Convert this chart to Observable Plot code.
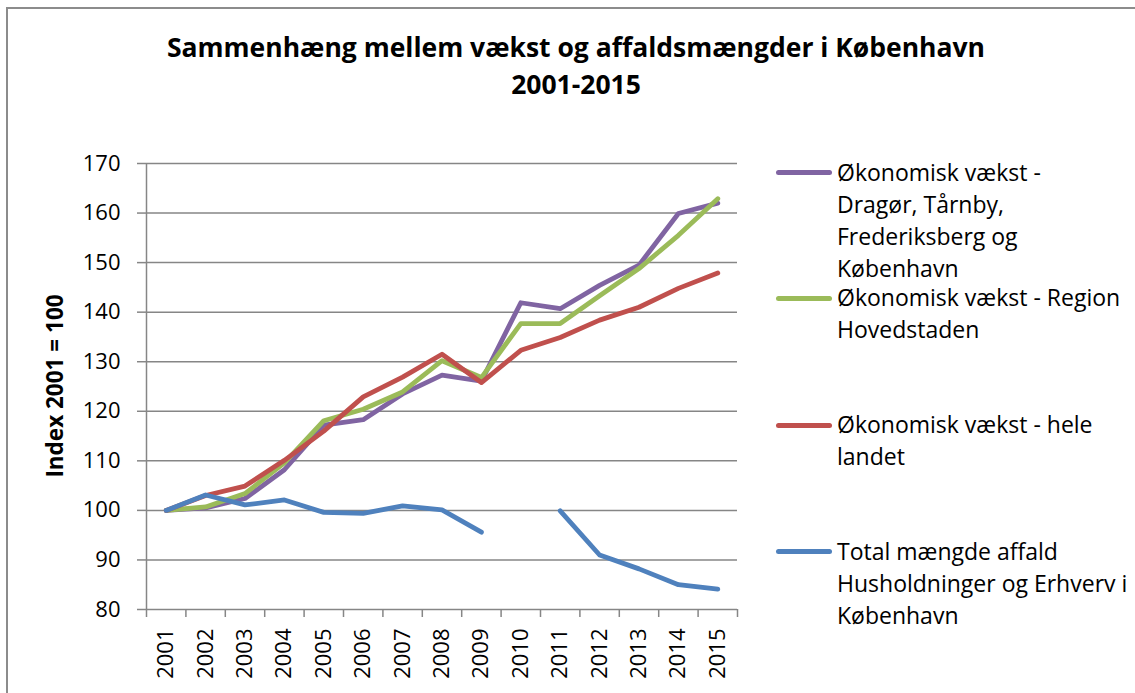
<!DOCTYPE html>
<html>
<head>
<meta charset="utf-8">
<script src="https://cdn.jsdelivr.net/npm/d3@7"></script>
<script src="https://cdn.jsdelivr.net/npm/@observablehq/plot@0.6"></script>
<style>
  body { margin: 0; background: #fff; }
  #wrap { position: relative; width: 1135px; height: 693px; overflow: hidden; background: #fff;
          font-family: "Open Sans", Lato, "DejaVu Sans", sans-serif; color: #000; }
  #frame { position: absolute; left: 6px; top: 7px; width: 1300px; height: 900px;
           border-left: 2px solid #8c8c8c; border-top: 2px solid #8c8c8c; box-sizing: border-box; }
  #chart { position: absolute; left: 0; top: 0; }
  #title { position: absolute; left: 0; top: 29px; width: 1152px; text-align: center;
           font-weight: bold; font-size: 26.5px; line-height: 37px; }
  #ytitle { position: absolute; left: 55px; top: 386px; transform: translate(-50%, -50%) rotate(-90deg);
            font-weight: bold; font-size: 22.5px; line-height: 1; white-space: nowrap; }
  .leg { position: absolute; left: 776px; width: 360px; height: 100px; }
  .leg .sw { position: absolute; left: 0; width: 56px; height: 5px; border-radius: 3px; }
  .leg .tx { position: absolute; left: 61px; top: 0; font-size: 23px; line-height: 32px; white-space: pre; }
</style>
</head>
<body>
<div id="wrap">
  <div id="frame"></div>
  <div id="chart"></div>
  <div id="title"></div>
  <div id="ytitle"></div>
</div>
<script>
// ---- data ----
const years = [2001, 2002, 2003, 2004, 2005, 2006, 2007, 2008, 2009, 2010, 2011, 2012, 2013, 2014, 2015];
const vaekstKbh    = [100, 100.5, 102.4, 108.2, 117.2, 118.3, 123.5, 127.3, 126.1, 141.9, 140.7, 145.4, 149.5, 159.9, 162.0];
const vaekstRegion = [100, 100.7, 103.4, 109.6, 118.1, 120.4, 123.9, 130.2, 126.8, 137.7, 137.7, 143.3, 148.8, 155.5, 162.9];
const vaekstLand   = [100, 103.0, 104.9, 110.1, 116.0, 122.9, 126.9, 131.5, 125.8, 132.3, 134.9, 138.4, 141.0, 144.8, 147.9];
const affald       = [100, 103.1, 101.1, 102.1, 99.6, 99.4, 100.9, 100.1, 95.6, null, 99.9, 91.0, 88.2, 85.0, 84.1];
const seriesNames = [
  "Økonomisk vækst -\nDragør, Tårnby,\nFrederiksberg og\nKøbenhavn",
  "Økonomisk vækst - Region\nHovedstaden",
  "Økonomisk vækst - hele\nlandet",
  "Total mængde affald\nHusholdninger og Erhverv i\nKøbenhavn"
];
const seriesColors = ["#8064A2", "#9BBB59", "#C0504D", "#4F81BD"];
const yTicks = [80, 90, 100, 110, 120, 130, 140, 150, 160, 170];
const titleLines = ["Sammenhæng mellem vækst og affaldsmængder i København", "2001-2015"];
const yLabel = "Index 2001 = 100";

// ---- build ----
const seriesValues = [vaekstKbh, vaekstRegion, vaekstLand, affald];
const tables = seriesValues.map(vals => years.map((yr, i) => ({year: yr, value: vals[i]})));
const xLo = years[0] - 0.5, xHi = years[years.length - 1] + 0.5;
const boundaries = [xLo, ...years.map(y => y + 0.5)];
const gray = "#868686";
const font = '"Open Sans", Lato, "DejaVu Sans", sans-serif';

const chart = Plot.plot({
  width: 1135,
  height: 693,
  marginLeft: 146,
  marginRight: 398,
  marginTop: 163,
  marginBottom: 84,
  x: {domain: [xLo, xHi], axis: null},
  y: {domain: [80, 170], axis: null},
  style: {fontFamily: font, fontSize: "22px", color: "#000", background: "transparent", overflow: "visible"},
  marks: [
    Plot.gridY(yTicks, {stroke: gray, strokeOpacity: 1, strokeWidth: 1.5}),
    Plot.axisY(yTicks, {tickSize: 9, tickPadding: 17, stroke: gray, strokeWidth: 1.5, fontSize: 22, label: null, tickFormat: d => `${d}`}),
    Plot.ruleX([xLo], {stroke: gray, strokeWidth: 1.5}),
    Plot.axisX(boundaries, {tickSize: 8, stroke: gray, strokeWidth: 1.5, tickFormat: () => "", label: null}),
    Plot.axisX(years, {tickSize: 0, tickPadding: 19, tickRotate: -90, fontSize: 22, tickFormat: d => `${d}`, label: null}),
    ...tables.map((t, i) => Plot.line(t, {
      x: "year", y: "value", stroke: seriesColors[i], strokeWidth: 4.8,
      strokeLinecap: "round", strokeLinejoin: "round"
    }))
  ]
});
document.getElementById("chart").appendChild(chart);

document.getElementById("title").innerHTML = titleLines.map(s => `<div>${s}</div>`).join("");
document.getElementById("ytitle").textContent = yLabel;

const legTops = [155.5, 281, 408, 534.5];
const wrap = document.getElementById("wrap");
seriesNames.forEach((name, i) => {
  const d = document.createElement("div");
  d.className = "leg";
  d.style.top = legTops[i] + "px";
  const sw = document.createElement("div");
  sw.className = "sw";
  sw.style.background = seriesColors[i];
  sw.style.top = "14.5px";
  const tx = document.createElement("div");
  tx.className = "tx";
  tx.textContent = name;
  d.appendChild(sw);
  d.appendChild(tx);
  wrap.appendChild(d);
});
</script>
</body>
</html>
